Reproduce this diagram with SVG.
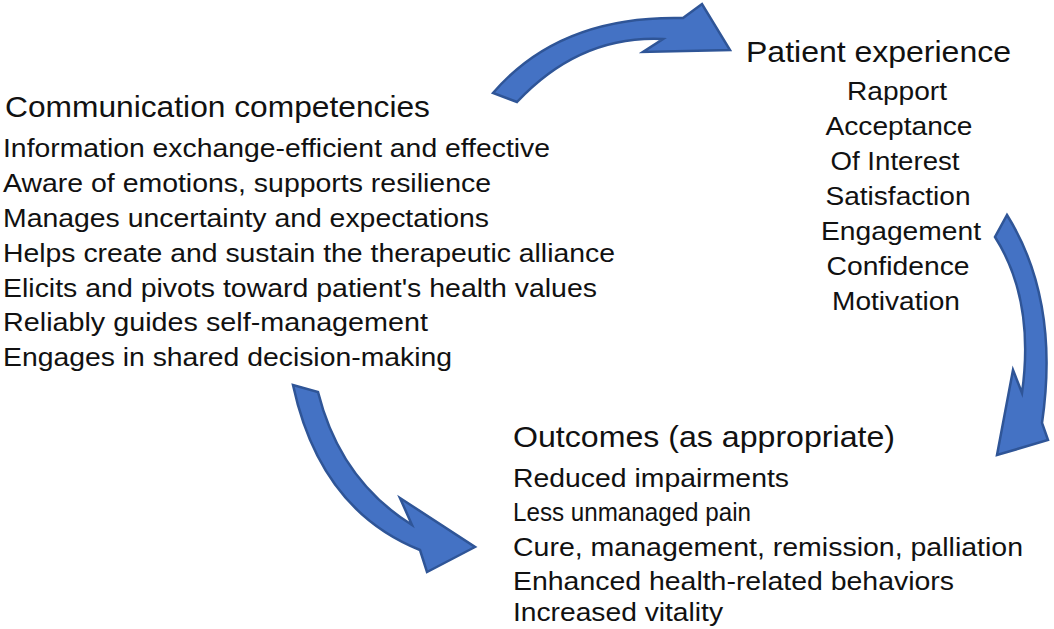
<svg xmlns="http://www.w3.org/2000/svg" width="1054" height="629" viewBox="0 0 1054 629">
<style>
text{font-family:"Liberation Sans",Arial,sans-serif;fill:#111}
.h{font-size:29px}
.t{font-size:25px}
.c{text-anchor:middle}
.arr{fill:#4472C4;stroke:#2F5597;stroke-width:2.5;stroke-linejoin:miter}
</style>
<rect width="1054" height="629" fill="#fff"/>
<g id="connectors">
<path class="arr" d="M493,93 Q560,15 683,18 L702,4 L730,50 L643,52 L663,39 Q580,35 517,102 Z"/>
<path class="arr" d="M1007,215 Q1060,300 1042,423 L1048,440 L997,455 L1013,370 L1022,393 Q1035,300 995,237 Z"/>
<path class="arr" d="M293,385 Q320,510 420,550 L427,572 L475,547 L400,498 L412,525 Q340,480 318,392 Z"/>
</g>
<g id="communication">
<text class="h" x="5" y="117" textLength="425" lengthAdjust="spacingAndGlyphs">Communication competencies</text>
<text class="t" x="3" y="157" textLength="547" lengthAdjust="spacingAndGlyphs">Information exchange-efficient and effective</text>
<text class="t" x="3" y="192" textLength="488" lengthAdjust="spacingAndGlyphs">Aware of emotions, supports resilience</text>
<text class="t" x="3" y="227" textLength="486" lengthAdjust="spacingAndGlyphs">Manages uncertainty and expectations</text>
<text class="t" x="3" y="262" textLength="612" lengthAdjust="spacingAndGlyphs">Helps create and sustain the therapeutic alliance</text>
<text class="t" x="3" y="297" textLength="594" lengthAdjust="spacingAndGlyphs">Elicits and pivots toward patient's health values</text>
<text class="t" x="3" y="331" textLength="425" lengthAdjust="spacingAndGlyphs">Reliably guides self-management</text>
<text class="t" x="3" y="366" textLength="449" lengthAdjust="spacingAndGlyphs">Engages in shared decision-making</text>
</g>
<g id="patient-experience">
<text class="h" x="746" y="62" textLength="265" lengthAdjust="spacingAndGlyphs">Patient experience</text>
<text class="t c" x="897" y="100" textLength="100" lengthAdjust="spacingAndGlyphs">Rapport</text>
<text class="t c" x="899" y="135" textLength="147" lengthAdjust="spacingAndGlyphs">Acceptance</text>
<text class="t c" x="895" y="170" textLength="129" lengthAdjust="spacingAndGlyphs">Of Interest</text>
<text class="t c" x="898" y="205" textLength="145" lengthAdjust="spacingAndGlyphs">Satisfaction</text>
<text class="t c" x="901" y="240" textLength="160" lengthAdjust="spacingAndGlyphs">Engagement</text>
<text class="t c" x="898" y="275" textLength="143" lengthAdjust="spacingAndGlyphs">Confidence</text>
<text class="t c" x="896" y="310" textLength="128" lengthAdjust="spacingAndGlyphs">Motivation</text>
</g>
<g id="outcomes">
<text class="h" x="513" y="447" textLength="382" lengthAdjust="spacingAndGlyphs">Outcomes (as appropriate)</text>
<text class="t" x="513" y="487" textLength="276" lengthAdjust="spacingAndGlyphs">Reduced impairments</text>
<text class="t" x="513" y="521" textLength="238" lengthAdjust="spacingAndGlyphs">Less unmanaged pain</text>
<text class="t" x="513" y="556" textLength="510" lengthAdjust="spacingAndGlyphs">Cure, management, remission, palliation</text>
<text class="t" x="513" y="590" textLength="441" lengthAdjust="spacingAndGlyphs">Enhanced health-related behaviors</text>
<text class="t" x="513" y="621" textLength="210" lengthAdjust="spacingAndGlyphs">Increased vitality</text>
</g>
</svg>
